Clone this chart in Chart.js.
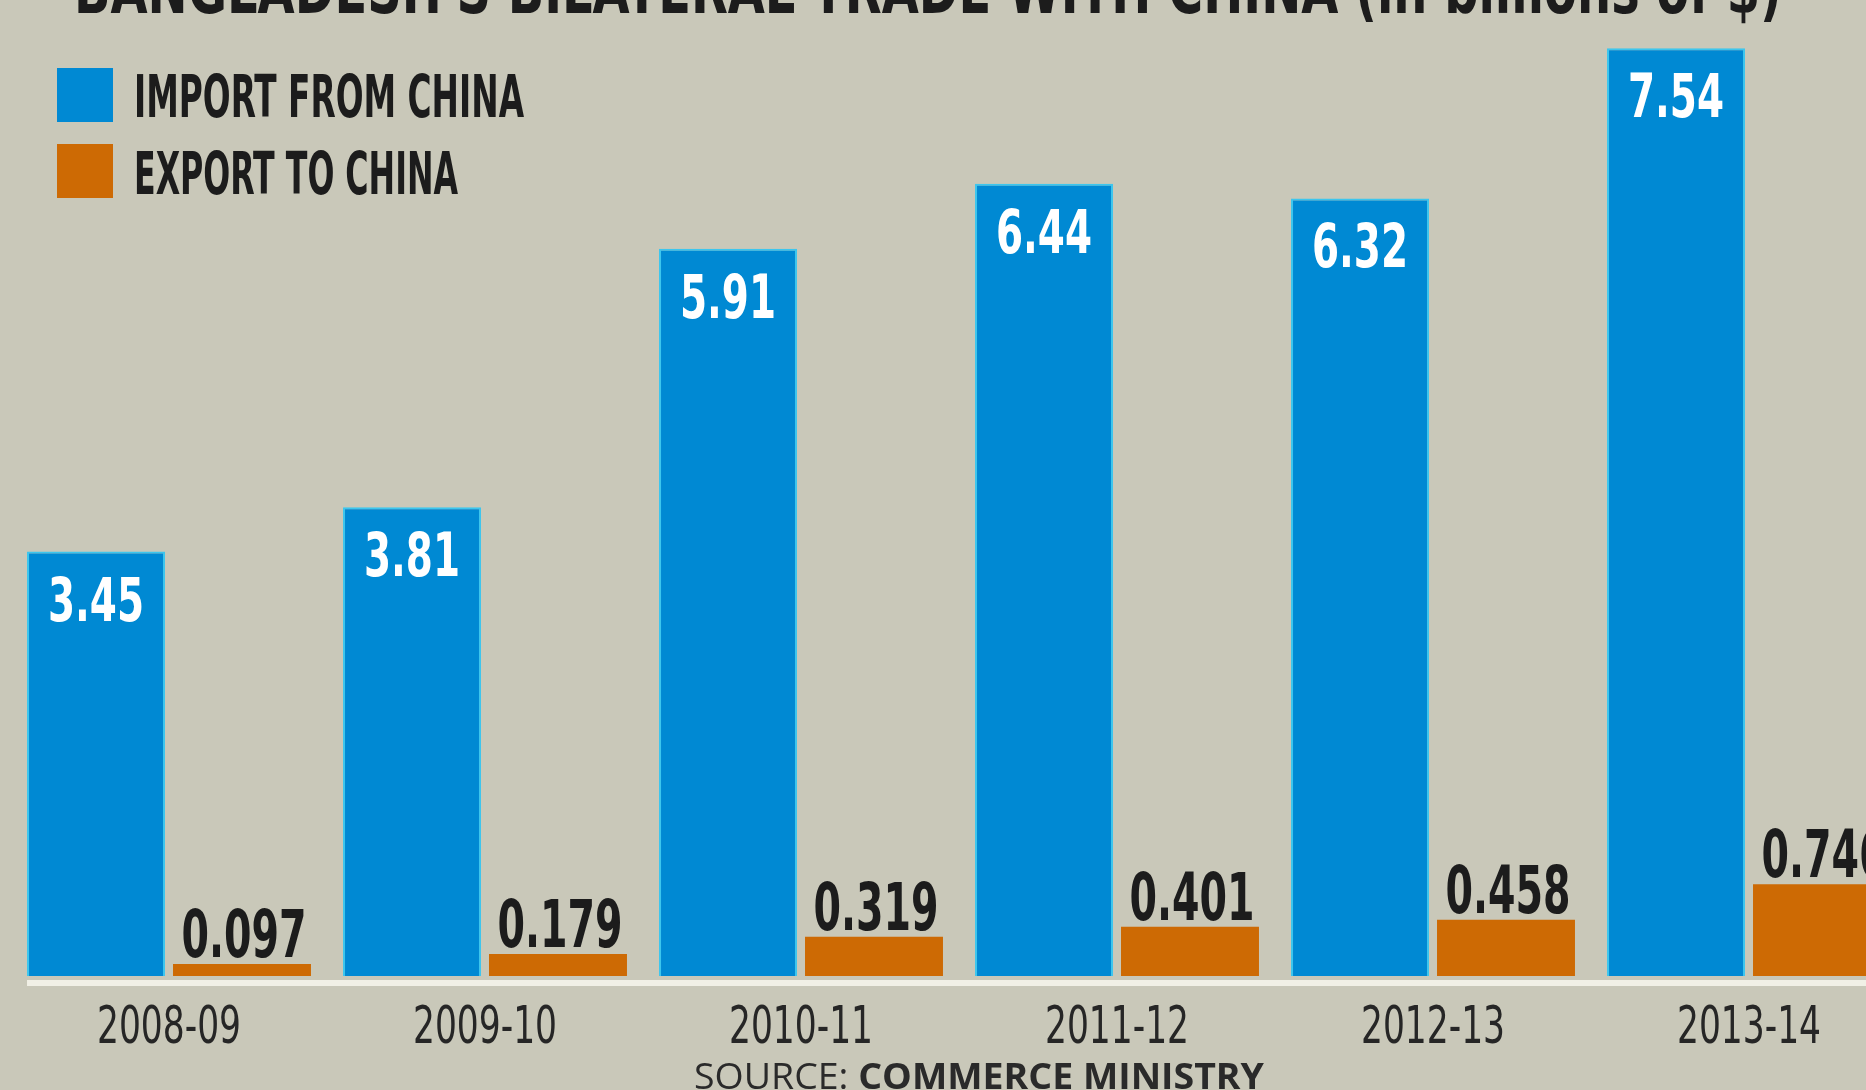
<!DOCTYPE html>
<html>
<head>
<meta charset="utf-8">
<script src="https://cdn.jsdelivr.net/npm/chart.js@4/dist/chart.umd.min.js"></script>
<style>
  html, body { margin: 0; padding: 0; background: #c9c8b9; overflow: hidden; width: 1866px; height: 1090px; }
  #wrap { width: 1920px; height: 1090px; }
</style>
</head>
<body>
<div id="wrap"><canvas id="c" width="1920" height="1090"></canvas></div>
<script>
const categories = ['2008-09', '2009-10', '2010-11', '2011-12', '2012-13', '2013-14'];
const importValues = [3.45, 3.81, 5.91, 6.44, 6.32, 7.54];
const exportValues = [0.097, 0.179, 0.319, 0.401, 0.458, 0.746];
const seriesLabels = ['IMPORT FROM CHINA', 'EXPORT TO CHINA'];
const titleText = "BANGLADESH'S BILATERAL TRADE WITH CHINA (in billions of $)";
const sourceLabel = 'SOURCE: ';
const sourceName = 'COMMERCE MINISTRY';

const BG = '#c9c8b9';
const BLUE = '#0089d3';
const ORANGE = '#cd6a04';
const NARROW = '"Liberation Sans Narrow", "DejaVu Sans Condensed", "Roboto Condensed", sans-serif';

function drawFit(ctx, text, x, y, font, color, targetW, align) {
  ctx.save();
  ctx.font = font;
  const w = ctx.measureText(text).width;
  const sx = targetW / w;
  ctx.fillStyle = color;
  ctx.textBaseline = 'alphabetic';
  ctx.textAlign = 'left';
  let x0 = x;
  if (align === 'center') x0 = x - targetW / 2;
  ctx.translate(x0, y);
  ctx.scale(sx, 1);
  ctx.fillText(text, 0, 0);
  ctx.restore();
}

function drawScaled(ctx, text, x, y, font, color, sx, align) {
  ctx.save();
  ctx.font = font;
  const w = ctx.measureText(text).width * sx;
  ctx.fillStyle = color;
  ctx.textBaseline = 'alphabetic';
  ctx.textAlign = 'left';
  let x0 = align === 'center' ? x - w / 2 : x;
  ctx.translate(x0, y);
  ctx.scale(sx, 1);
  ctx.fillText(text, 0, 0);
  ctx.restore();
}

function measure(ctx, text, font) {
  ctx.save();
  ctx.font = font;
  const w = ctx.measureText(text).width;
  ctx.restore();
  return w;
}

const decorPlugin = {
  id: 'decor',
  beforeDraw(chart) {
    const ctx = chart.ctx;
    ctx.save();
    ctx.fillStyle = BG;
    ctx.fillRect(0, 0, chart.width, chart.height);
    ctx.restore();
  },
  afterDatasetsDraw(chart) {
    const ctx = chart.ctx;
    const area = chart.chartArea;
    const xs = chart.scales.x;

    // baseline
    const firstBar = chart.getDatasetMeta(0).data[0];
    ctx.save();
    ctx.fillStyle = '#f1f0e6';
    ctx.fillRect(firstBar.x - firstBar.width / 2, area.bottom + 4, chart.width, 6);
    ctx.restore();

    // category labels, placed by the x scale
    const tickFont = '52px ' + NARROW;
    const sxT = 144 / measure(ctx, categories[0], tickFont);
    xs.ticks.forEach((t, i) => {
      drawScaled(ctx, xs.getLabelForValue(t.value), xs.getPixelForTick(i), 1043, tickFont, '#262626', sxT, 'center');
    });

    // value labels
    const fW = 'bold 60px ' + NARROW;
    const fB = 'bold 66px ' + NARROW;
    const sxW = 96 / measure(ctx, '3.45', fW);
    const sxB = 125 / measure(ctx, '0.097', fB);
    chart.getDatasetMeta(0).data.forEach((bar, i) => {
      drawScaled(ctx, importValues[i].toFixed(2), bar.x, bar.y + 69, fW, '#ffffff', sxW, 'center');
    });
    chart.getDatasetMeta(1).data.forEach((bar, i) => {
      drawScaled(ctx, exportValues[i].toFixed(3), bar.x + 2, bar.y - 7, fB, '#1c1c1c', sxB, 'center');
    });

    // title (cut by top edge)
    drawFit(ctx, titleText, 74, 13, 'bold 70px ' + NARROW, '#1c1c1c', 1708, 'left');

    // legend
    const colors = [BLUE, ORANGE];
    const boxY = [68, 144];
    const textW = [390, 324];
    const textY = [117, 194];
    ctx.save();
    colors.forEach((c, k) => {
      ctx.fillStyle = c;
      ctx.fillRect(57, boxY[k], 56, 54);
    });
    ctx.restore();
    seriesLabels.forEach((s, k) => {
      drawFit(ctx, s, 134, textY[k], 'bold 59px ' + NARROW, '#1c1c1c', textW[k], 'left');
    });

    // source
    ctx.save();
    const fs1 = '36px "Open Sans", sans-serif';
    const fs2 = 'bold 36px "Open Sans", sans-serif';
    const w1 = measure(ctx, sourceLabel, fs1);
    const w2 = measure(ctx, sourceName, fs2);
    const sx = 570 / (w1 + w2);
    ctx.translate(694, 1089);
    ctx.scale(sx, 1);
    ctx.fillStyle = '#2a2a2a';
    ctx.textBaseline = 'alphabetic';
    ctx.font = fs1;
    ctx.fillText(sourceLabel, 0, 0);
    ctx.font = fs2;
    ctx.fillText(sourceName, w1, 0);
    ctx.restore();
  }
};

new Chart(document.getElementById('c'), {
  type: 'bar',
  data: {
    labels: categories,
    datasets: [
      { label: seriesLabels[0], data: importValues, backgroundColor: BLUE, borderColor: '#3cc6ee', borderWidth: { top: 2, left: 2, right: 2, bottom: 0 }, borderSkipped: 'bottom', barPercentage: 0.945, categoryPercentage: 0.924 },
      { label: seriesLabels[1], data: exportValues, backgroundColor: ORANGE, borderWidth: 0, barPercentage: 0.945, categoryPercentage: 0.924 }
    ]
  },
  options: {
    responsive: false,
    animation: false,
    devicePixelRatio: 1,
    layout: { padding: { left: 11, right: 13, top: 4, bottom: 0 } },
    plugins: { legend: { display: false }, tooltip: { enabled: false }, title: { display: false } },
    scales: {
      x: {
        grid: { display: false },
        border: { display: false },
        ticks: { display: false },
        afterFit: (s) => { s.height = 114; }
      },
      y: { display: false, min: 0, max: 7.9 }
    }
  },
  plugins: [decorPlugin]
});
</script>
</body>
</html>
